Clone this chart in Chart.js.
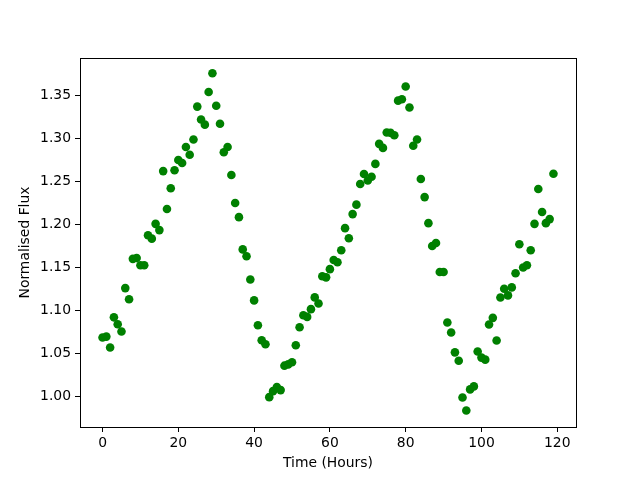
<!DOCTYPE html>
<html>
<head>
<meta charset="utf-8">
<script src="https://cdn.jsdelivr.net/npm/chart.js@4/dist/chart.umd.min.js"></script>
<style>
html,body{margin:0;padding:0;background:#fff;}
#wrap{width:640px;height:480px;}
</style>
</head>
<body>
<div id="wrap"><canvas id="c" width="640" height="480"></canvas></div>
<script>
const hours = [];
for (let i = 0; i < 120; i++) hours.push(i);

const flux = [
  1.0685, 1.0696, 1.057, 1.092, 1.084, 1.0755, 1.126, 1.113, 1.160, 1.161,
  1.1525, 1.1525, 1.1875, 1.1835, 1.2007, 1.1934, 1.262, 1.218, 1.242, 1.263,
  1.275, 1.2715, 1.290, 1.281, 1.2987, 1.337, 1.322, 1.316, 1.354, 1.3757,
  1.338, 1.317, 1.284, 1.290, 1.2575, 1.2249, 1.2085, 1.171, 1.163, 1.136,
  1.1117, 1.0828, 1.0653, 1.0607, 0.9992, 1.0062, 1.0109, 1.0074, 1.0358, 1.0373,
  1.0397, 1.0595, 1.0805, 1.0945, 1.0925, 1.1015, 1.1152, 1.108, 1.1397, 1.1385,
  1.148, 1.1587, 1.156, 1.170, 1.1957, 1.184, 1.212, 1.223, 1.247, 1.2587,
  1.251, 1.2555, 1.2704, 1.2937, 1.289, 1.3069, 1.3065, 1.3037, 1.3439, 1.3455,
  1.3604, 1.336, 1.2914, 1.2987, 1.2529, 1.2318, 1.2015, 1.175, 1.1785, 1.1447,
  1.1447, 1.086, 1.0743, 1.0513, 1.0416, 0.9988, 0.9837, 1.0082, 1.0117, 1.0522,
  1.0452, 1.0428, 1.0837, 1.0914, 1.065, 1.115, 1.1252, 1.1175, 1.1268, 1.1432,
  1.177, 1.150, 1.1525, 1.170, 1.2007, 1.2412, 1.2144, 1.2015, 1.2062, 1.259
];

const xTicks = [0, 20, 40, 60, 80, 100, 120];
const yTicks = [1.00, 1.05, 1.10, 1.15, 1.20, 1.25, 1.30, 1.35];
const xLabel = 'Time (Hours)';
const yLabel = 'Normalised Flux';

const points = hours.map((h, i) => ({x: h, y: flux[i]}));

const FONT = {family: 'DejaVu Sans', size: 13.9};

const frame = {
  id: 'frame',
  afterDraw(chart) {
    const a = chart.chartArea, ctx = chart.ctx;
    ctx.save();
    ctx.strokeStyle = '#000';
    ctx.lineWidth = 1;
    ctx.strokeRect(Math.round(a.left) + 0.5, Math.round(a.top) + 0.5,
                   Math.round(a.right - a.left), Math.round(a.bottom - a.top));
    ctx.restore();
  }
};

new Chart(document.getElementById('c'), {
  type: 'scatter',
  data: {
    datasets: [{
      data: points,
      backgroundColor: '#008000',
      borderWidth: 0,
      pointRadius: 4.3,
      pointHoverRadius: 4.3
    }]
  },
  options: {
    responsive: false,
    animation: false,
    devicePixelRatio: 1,
    layout: {padding: {left: 0, right: 64, top: 58, bottom: 0}},
    plugins: {legend: {display: false}, tooltip: {enabled: false}},
    scales: {
      x: {
        type: 'linear',
        min: -5.95, max: 124.95,
        afterBuildTicks: s => { s.ticks = xTicks.map(v => ({value: v})); },
        afterFit: s => { s.height = 53; },
        grid: {display: true, drawOnChartArea: false, drawTicks: true, tickLength: 5, color: '#000', tickWidth: 1},
        border: {display: true, color: '#000', width: 1},
        ticks: {color: '#000', font: FONT, padding: 3, maxRotation: 0, callback: v => String(v)},
        title: {display: true, text: xLabel, color: '#000', font: FONT, padding: {top: 0, bottom: 8}}
      },
      y: {
        type: 'linear',
        min: 0.9645, max: 1.3935,
        afterBuildTicks: s => { s.ticks = yTicks.map(v => ({value: v})); },
        afterFit: s => { s.width = 80; },
        grid: {display: true, drawOnChartArea: false, drawTicks: true, tickLength: 5, color: '#000', tickWidth: 1},
        border: {display: true, color: '#000', width: 1},
        ticks: {color: '#000', font: FONT, padding: 4, callback: v => Number(v).toFixed(2)},
        title: {display: true, text: yLabel, color: '#000', font: FONT, padding: {top: 17, bottom: 0}}
      }
    }
  },
  plugins: [frame]
});
</script>
</body>
</html>
